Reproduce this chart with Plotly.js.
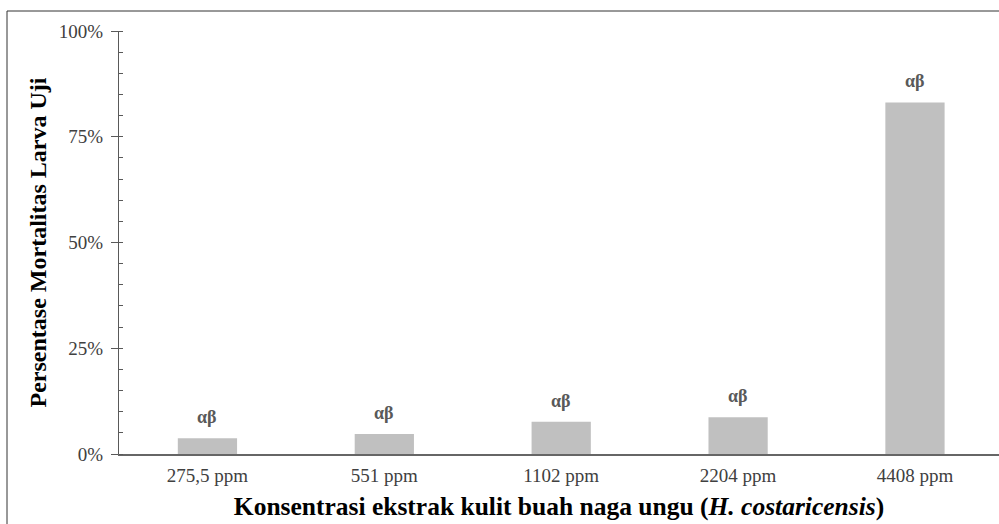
<!DOCTYPE html>
<html>
<head>
<meta charset="utf-8">
<script src="https://cdn.plot.ly/plotly-3.0.1.min.js"></script>
<style>
html,body{margin:0;padding:0;background:#fff;}
#chart{width:999px;height:524px;}
</style>
</head>
<body>
<div id="chart"></div>
<script>
const categories = ["275,5 ppm", "551 ppm", "1102 ppm", "2204 ppm", "4408 ppm"];
const mortality = [0.037, 0.047, 0.076, 0.087, 0.831];
const barLabels = ["αβ", "αβ", "αβ", "αβ", "αβ"];
const yTickVals = [0, 0.25, 0.5, 0.75, 1];
const yTickText = ["0%", "25%", "50%", "75%", "100%"];

const trace = {
  type: "bar",
  x: categories,
  y: mortality,
  width: 0.335,
  marker: {color: "#c0c0c0"},
  hoverinfo: "skip"
};

const annotations = categories.map((c, i) => ({
  x: c, y: mortality[i], xref: "x", yref: "y",
  text: "<b>" + barLabels[i] + "</b>",
  showarrow: false, yanchor: "bottom", yshift: 9,
  font: {family: "Liberation Serif, serif", size: 18, color: "#595959"}
}));

const layout = {
  width: 999, height: 524,
  margin: {l: 119, r: 0, t: 31, b: 70},
  paper_bgcolor: "#ffffff",
  plot_bgcolor: "#ffffff",
  showlegend: false,
  xaxis: {
    type: "category",
    range: [-0.5, 4.475],
    showline: true, linecolor: "#666666", linewidth: 2,
    ticks: "", showgrid: false, zeroline: false,
    tickfont: {family: "Liberation Serif, serif", size: 19, color: "#404040"},
    ticklabelstandoff: 3,
    title: {
      text: "<b>Konsentrasi ekstrak kulit buah naga ungu (<i>H. costaricensis</i>)</b>",
      font: {family: "Liberation Serif, serif", size: 25.5, color: "#000000"},
      standoff: 12
    }
  },
  yaxis: {
    range: [0, 1],
    tickvals: yTickVals, ticktext: yTickText,
    showline: true, linecolor: "#595959", linewidth: 1,
    ticks: "outside", ticklen: 7, tickcolor: "#595959", tickwidth: 1,
    ticklabelstandoff: 4,
    minor: {dtick: 0.05, ticks: "inside", ticklen: 4, tickcolor: "#595959", tickwidth: 1, showgrid: false},
    showgrid: false, zeroline: false,
    tickfont: {family: "Liberation Serif, serif", size: 19, color: "#404040"},
    title: {
      text: "<b>Persentase Mortalitas Larva Uji</b>",
      font: {family: "Liberation Serif, serif", size: 24, color: "#000000"},
      standoff: 5
    }
  },
  annotations: annotations,
  shapes: [{
    type: "rect", xref: "paper", yref: "paper",
    x0: (7 - 119) / 880, x1: 1.2,
    y0: -0.3, y1: (454 - 11) / 423,
    line: {color: "#333333", width: 1}, fillcolor: "rgba(0,0,0,0)"
  }]
};

Plotly.newPlot("chart", [trace], layout, {displayModeBar: false, staticPlot: true});
</script>
</body>
</html>
